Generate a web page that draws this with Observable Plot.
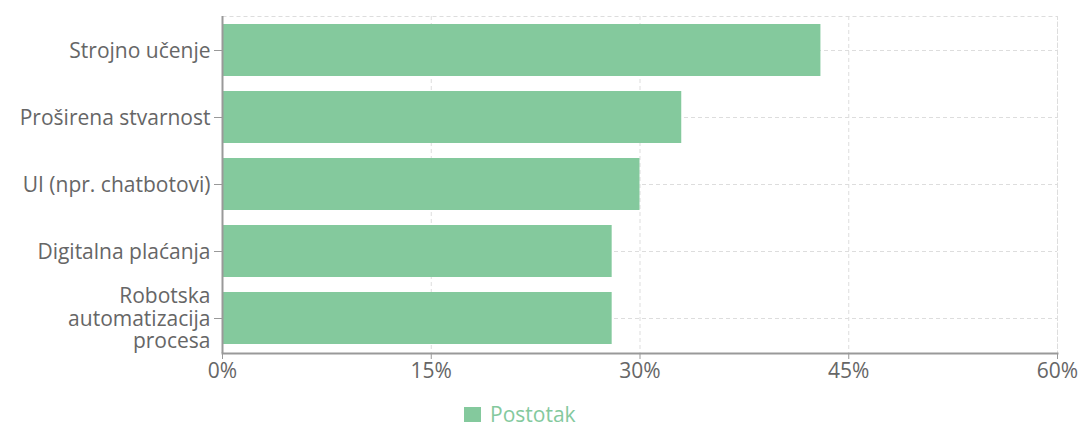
<!DOCTYPE html>
<html><head><meta charset="utf-8">
<script src="https://cdn.jsdelivr.net/npm/d3@7"></script>
<script src="https://cdn.jsdelivr.net/npm/@observablehq/plot@0.6"></script>
<style>
body{margin:0;background:#fff;font-family:"Open Sans",sans-serif}
#legend{position:relative;height:31px}
#legend .item{position:absolute;left:464px;top:5px;display:flex;align-items:center;color:#84c99d;font-size:21px;line-height:29px}
#legend .sw{width:17px;height:15px;background:#84c99d;margin-right:9px}
</style>
</head><body><div id="chart"></div><div id="legend"></div><script>
const categories = ["Strojno učenje","Proširena stvarnost","UI (npr. chatbotovi)","Digitalna plaćanja","Robotska automatizacija procesa"];
const values = [43,33,30,28,28];
const xTicks = [0,15,30,45,60];
const seriesName = "Postotak";
const barColor = "#84c99d";
const data = categories.map((c,i)=>({category:c, value:values[i]}));
const labelFmt = d => d === "Robotska automatizacija procesa" ? "Robotska\nautomatizacija\nprocesa" : d;

const chart = Plot.plot({
  width:1082, height:395,
  marginLeft:222, marginRight:25, marginTop:16, marginBottom:42,
  style:{fontFamily:'"Open Sans",sans-serif', fontSize:"21px", color:"#666", background:"#fff"},
  x:{domain:[0,60], ticks:xTicks, tickFormat:d=>d+"%", label:null},
  y:{domain:categories, paddingInner:0.22, paddingOuter:0.1, label:null},
  marks:[
    Plot.frame({stroke:"#ddd", strokeDasharray:"4,3"}),
    Plot.gridX(xTicks.slice(1), {stroke:"#ddd", strokeOpacity:1, strokeDasharray:"4,3"}),
    Plot.gridY(categories, {stroke:"#ddd", strokeOpacity:1, strokeDasharray:"4,3"}),
    Plot.barX(data, {x:"value", y:"category", fill:barColor}),
    Plot.ruleX([0], {stroke:"#999", strokeWidth:2}),
    Plot.frame({anchor:"bottom", stroke:"#999", strokeWidth:2}),
    Plot.axisX({ticks:xTicks, tickFormat:d=>d+"%", tickSize:6, tickPadding:4, stroke:"#999", fill:"#666", fontSize:21, label:null}),
    Plot.axisY({tickFormat:labelFmt, tickSize:8, tickPadding:4, stroke:"#999", fill:"#666", fontSize:21, lineHeight:1.07, label:null})
  ]
});
document.getElementById("chart").appendChild(chart);
document.getElementById("legend").innerHTML = `<div class="item"><span class="sw"></span>${seriesName}</div>`;
</script></body></html>
